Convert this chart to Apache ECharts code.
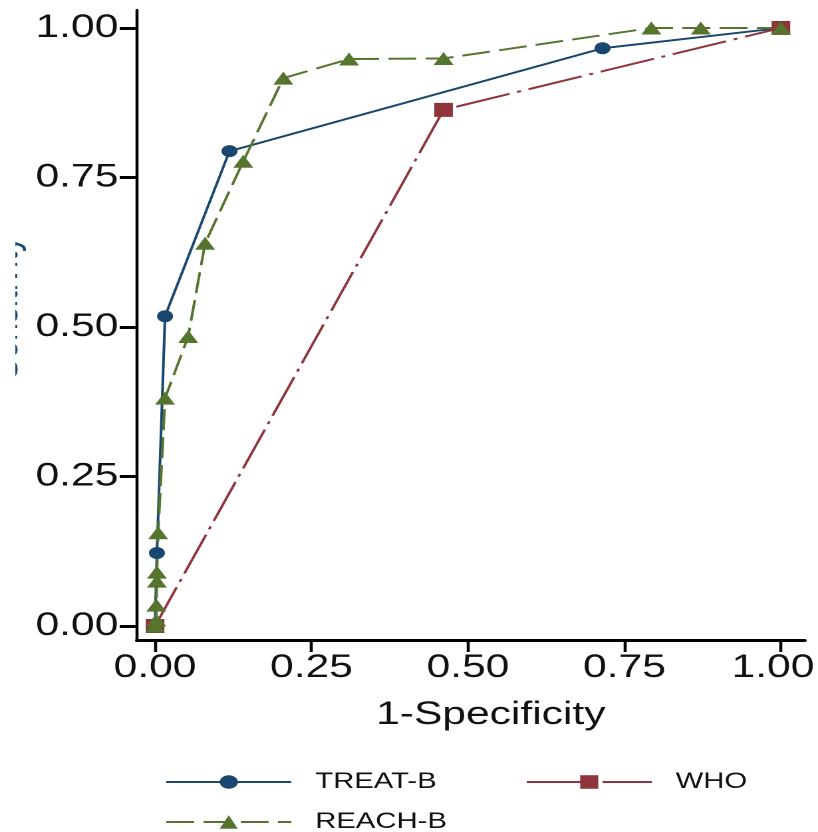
<!DOCTYPE html>
<html>
<head>
<meta charset="utf-8">
<script src="https://cdn.jsdelivr.net/npm/echarts@6/dist/echarts.min.js"></script>
<style>
  html, body { margin: 0; padding: 0; background: #fff; overflow: hidden; }
  /* the reference is a horizontally stretched export, so draw narrow and stretch */
  #chart { width: 615px; height: 832px; transform: scaleX(1.33008); transform-origin: 0 0; }
</style>
</head>
<body>
<div id="chart"></div>
<script>
var ticks = [0, 0.25, 0.5, 0.75, 1];

var treatX = [0, 0.003, 0.016, 0.119, 0.715, 1];
var treatY = [0, 0.122, 0.518, 0.794, 0.966, 1];

var whoX = [0, 0.461, 1];
var whoY = [0, 0.863, 1];

var reachX = [0, 0.002, 0.002, 0.003, 0.003, 0.005, 0.016, 0.053, 0.080, 0.141, 0.205, 0.310, 0.461, 0.793, 0.872, 1];
var reachY = [0, 0.010, 0.035, 0.075, 0.090, 0.156, 0.381, 0.484, 0.640, 0.777, 0.916, 0.948, 0.949, 1.000, 1.000, 1];

var font = 'Liberation Sans, Arial, sans-serif';
var navy = '#1a476f';
var maroon = '#90353b';
var green = '#55752f';

function pairs(xs, ys) {
  return xs.map(function (x, i) { return [x, ys[i]]; });
}

var chart = echarts.init(document.getElementById('chart'), null, { devicePixelRatio: 2 });

function legendItem(name, left, top) {
  return {
    data: [name],
    left: left,
    top: top,
    padding: 0,
    itemWidth: 94,
    itemHeight: 17,
    selectedMode: false,
    textStyle: { fontFamily: font, fontSize: 22, color: '#111', padding: [0, 0, 0, 13] }
  };
}

var option = {
  animation: false,
  backgroundColor: '#fff',
  grid: { left: 103, top: 10, width: 502, height: 630, containLabel: false, outerBoundsMode: 'none' },
  legend: [
    legendItem('TREAT-B', 124, 771),
    legendItem('WHO', 395, 771),
    legendItem('REACH-B', 124, 811)
  ],
  graphic: [
    {
      type: 'text',
      x: 20,
      y: 308,
      rotation: Math.PI / 2,
      style: {
        text: 'Sensitivity',
        font: '32px ' + font,
        fill: '#1a476f',
        textAlign: 'center',
        textVerticalAlign: 'bottom'
      }
    },
    {
      // the reference crops the y title at the image edge
      type: 'rect',
      shape: { x: 0, y: 200, width: 11.5, height: 220 },
      style: { fill: '#fff' },
      z: 200
    }
  ],
  xAxis: {
    type: 'value',
    min: -0.0288,
    max: 1.038,
    name: '1-Specificity',
    nameLocation: 'middle',
    nameGap: 59,
    nameTextStyle: { fontFamily: font, fontSize: 32, color: '#111', padding: [0, 0, 0, 30] },
    splitLine: { show: false },
    axisLine: { show: true, onZero: false, lineStyle: { color: '#000', width: 3 } },
    axisTick: { show: true, customValues: ticks, length: 12, lineStyle: { color: '#000', width: 2.3 } },
    axisLabel: {
      customValues: ticks,
      margin: 12,
      fontFamily: font,
      fontSize: 32,
      color: '#111',
      formatter: function (v) { return v === 1 ? '{r|1.00}' : v.toFixed(2); },
      rich: { r: { fontFamily: font, fontSize: 32, color: '#111', padding: [0, 12, 0, 0] } }
    }
  },
  yAxis: {
    type: 'value',
    min: -0.0234,
    max: 1.030,
    splitLine: { show: false },
    axisLine: { show: true, onZero: false, lineStyle: { color: '#000', width: 2.3 } },
    axisTick: { show: true, customValues: ticks, length: 13, lineStyle: { color: '#000', width: 3 } },
    axisLabel: {
      customValues: ticks,
      margin: 14,
      fontFamily: font,
      fontSize: 32,
      color: '#111',
      formatter: function (v) { return v.toFixed(2); }
    }
  },
  series: [
    {
      name: 'TREAT-B',
      type: 'line',
      data: pairs(treatX, treatY),
      symbol: 'circle',
      symbolSize: 12,
      showAllSymbol: true,
      itemStyle: { color: navy },
      lineStyle: { color: navy, width: 2, type: 'solid' }
    },
    {
      name: 'WHO',
      type: 'line',
      data: pairs(whoX, whoY),
      symbol: 'rect',
      symbolSize: 14,
      itemStyle: { color: maroon },
      lineStyle: { color: maroon, width: 2, type: [42, 6, 3, 6] }
    },
    {
      name: 'REACH-B',
      type: 'line',
      data: pairs(reachX, reachY),
      symbol: 'triangle',
      symbolSize: [15, 13],
      showAllSymbol: true,
      itemStyle: { color: green },
      lineStyle: { color: green, width: 2, type: [21, 7] }
    }
  ]
};

chart.setOption(option);
</script>
</body>
</html>
